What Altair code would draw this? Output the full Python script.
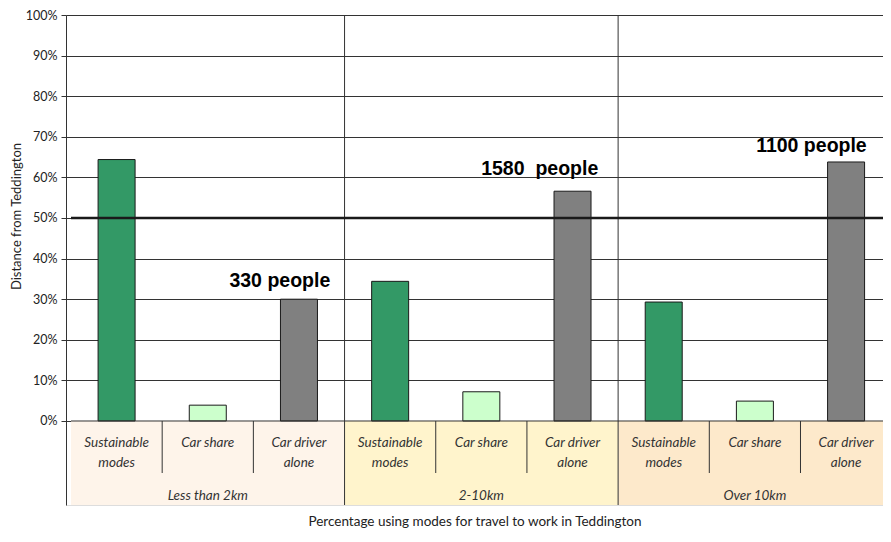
import altair as alt
import pandas as pd

# ---------------- data ----------------
groups = ["Less than 2km", "2-10km", "Over 10km"]
modes = ["Sustainable\nmodes", "Car share", "Car driver\nalone"]
sustainable = [64.4, 34.4, 29.3]
car_share = [3.9, 7.2, 4.9]
car_alone = [30.0, 56.6, 63.8]
people_labels = ["330 people", "1580\u00a0 people", "1100 people"]
y_ticks = [0, 10, 20, 30, 40, 50, 60, 70, 80, 90, 100]
threshold = [50]

# ---------------- styles / layout ----------------
mode_colors = ["#339966", "#CCFFCC", "#808080"]
group_fills = ["#FEF4EA", "#FFF4CC", "#FDE9CB"]
TABLE_BOTTOM = -20.69
CAT_ROW_BOTTOM = -12.81
CAT_TEXT_Y = -6.4
GROUP_TEXT_Y = -19.4
ann_x = [2.29, 5.14, 8.12]
ann_y = [33.0, 60.6, 66.3]
N = len(groups) * len(modes)
X_VISIBLE = 8.85

xscale = alt.Scale(domain=[0, X_VISIBLE], nice=False, zero=False)
yscale = alt.Scale(domain=[TABLE_BOTTOM, 100], nice=False, zero=False)
xaxis = alt.Axis(labels=False, ticks=False, domain=False, grid=False,
                 title="Percentage using modes for travel to work in Teddington",
                 titleFont="Lato", titleFontSize=13.5, titleFontWeight="normal",
                 titleColor="#222", titlePadding=9)
yaxis = alt.Axis(values=y_ticks, labelExpr="datum.value + '%'", grid=True,
                 gridColor="#333", gridWidth=1, tickColor="#333", tickSize=5,
                 domainColor="#333", labelFont="Lato", labelFontSize=12.5,
                 labelColor="#222", labelPadding=4,
                 title="Distance from Teddington", titleFont="Lato",
                 titleFontSize=13, titleFontWeight="normal", titleColor="#222",
                 titleX=-50, titleY=201, titleAngle=-90, titleBaseline="middle",
                 titleAlign="center")


def X(field="x"):
    return alt.X(field, type="quantitative", scale=xscale, axis=xaxis)


def Y(field="y"):
    return alt.Y(field, type="quantitative", scale=yscale, axis=yaxis)


# bars
rows = []
series = [sustainable, car_share, car_alone]
for g, grp in enumerate(groups):
    for m, mode in enumerate(modes):
        rows.append({"x": g * 3 + m + 0.5, "y": series[m][g],
                     "color": mode_colors[m], "group": grp, "mode": mode})
bars_df = pd.DataFrame(rows)

# table backgrounds
bg_df = pd.DataFrame({
    "x": [g * 3 for g in range(len(groups))],
    "x2": [g * 3 + 3 for g in range(len(groups))],
    "y": [TABLE_BOTTOM] * len(groups),
    "y2": [0] * len(groups),
    "fill": group_fills,
})

# vertical rules
vr = []
for g in range(1, len(groups)):
    vr.append({"x": g * 3, "y": TABLE_BOTTOM, "y2": 100})
for g in range(len(groups)):
    for m in range(1, len(modes)):
        vr.append({"x": g * 3 + m, "y": CAT_ROW_BOTTOM, "y2": 0})
vr_df = pd.DataFrame(vr)

cat_df = pd.DataFrame({"x": [r["x"] for r in rows],
                       "y": [CAT_TEXT_Y] * N,
                       "label": [r["mode"] for r in rows]})
grp_df = pd.DataFrame({"x": [g * 3 + 1.5 for g in range(len(groups))],
                       "y": [GROUP_TEXT_Y] * len(groups),
                       "label": groups})
ann_df = pd.DataFrame({"x": ann_x, "y": ann_y, "label": people_labels})
zero_df = pd.DataFrame({"x": [0], "x2": [N], "y": [0]})
thr_df = pd.DataFrame({"x": [0], "x2": [N], "y": threshold})

bg = alt.Chart(bg_df).mark_rect().encode(
    x=X(), x2="x2", y=Y(), y2="y2", fill=alt.Fill("fill:N", scale=None))

bars = alt.Chart(bars_df).mark_bar(orient="vertical", size=37, stroke="#1a1a1a",
                                   strokeWidth=1).encode(
    x=X(), y=alt.Y("y", type="quantitative", scale=yscale, axis=yaxis, stack=None),
    fill=alt.Fill("color:N", scale=None))

vrules = alt.Chart(vr_df).mark_rule(color="#333", strokeWidth=1).encode(
    x=X(), y=Y(), y2="y2")

zero_rule = alt.Chart(zero_df).mark_rule(color="#333", strokeWidth=1).encode(
    x=X(), x2="x2", y=Y())

thr_rule = alt.Chart(thr_df).mark_rule(color="#1a1a1a", strokeWidth=2.5).encode(
    x=X(), x2="x2", y=Y())

cat_text = alt.Chart(cat_df).mark_text(
    font="Lato", fontStyle="italic", fontSize=13.5, color="#333",
    lineBreak="\n", lineHeight=20, baseline="alphabetic", align="center").encode(
    x=X(), y=Y(), text="label:N")

grp_text = alt.Chart(grp_df).mark_text(
    font="Lato", fontStyle="italic", fontSize=13.5, color="#333",
    baseline="alphabetic", align="center").encode(
    x=X(), y=Y(), text="label:N")

ann_text = alt.Chart(ann_df).mark_text(
    font="Liberation Sans", fontWeight="bold", fontSize=19.5, color="#000",
    baseline="alphabetic", align="center").encode(
    x=X(), y=Y(), text="label:N")

chart = alt.layer(bg, bars, vrules, zero_rule, thr_rule, cat_text, grp_text,
                  ann_text).properties(
    width=817, height=490,
    autosize=alt.AutoSizeParams(type="none"),
    padding={"left": 58, "top": 7, "right": 0, "bottom": 24},
).configure_view(stroke=None).configure(background="white")

chart.save("out.html", embed_options={"renderer": "svg", "actions": False})
